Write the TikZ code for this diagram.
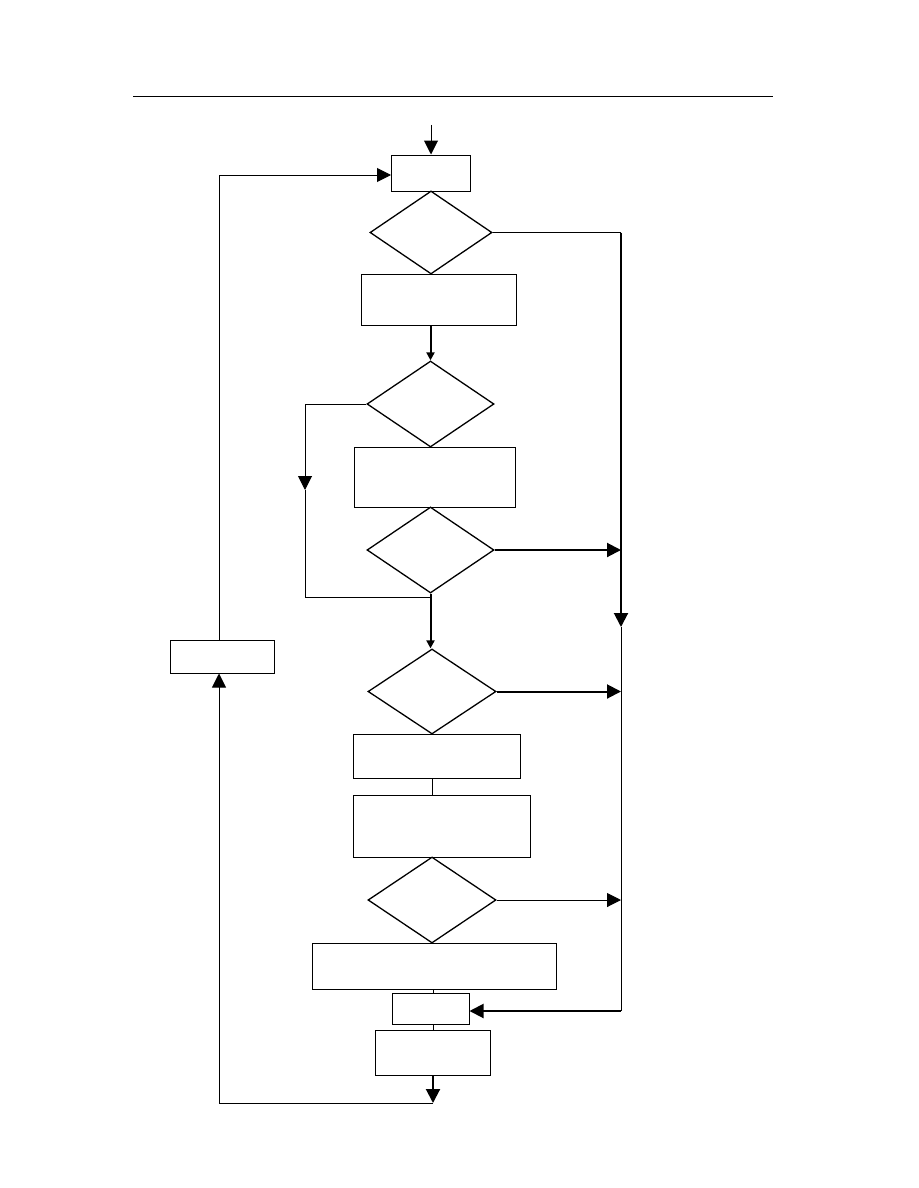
\documentclass[tikz,border=0pt]{standalone}
\usetikzlibrary{shapes.geometric,arrows.meta}
\begin{document}
\begin{tikzpicture}[x=1pt,y=-1pt,
  boxnode/.style={draw,line width=1pt,rectangle,inner sep=0pt},
  dianode/.style={draw,line width=1.3pt,diamond,inner sep=0pt},
  thin line/.style={line width=1pt},
  thick line/.style={line width=2pt},
  bigarrow/.style={-{Triangle[length=14pt,width=14pt]}},
  smallarrow/.style={-{Triangle[length=8pt,width=8pt]}}]
\useasboundingbox (0,0) rectangle (918,1188);
% header rule
\coordinate (hl) at (133,97);
\coordinate (hr) at (773,97);
\draw[line width=1pt] (hl) -- (hr);
% nodes
\node[boxnode,minimum width=79pt,minimum height=36pt] (b1) at (431,173) {};
\node[dianode,minimum width=122pt,minimum height=83pt] (d1) at (431,232.5) {};
\node[boxnode,minimum width=155pt,minimum height=51pt] (b2) at (438.5,299.5) {};
\node[dianode,minimum width=127pt,minimum height=86pt] (d2) at (430.5,404) {};
\node[boxnode,minimum width=161pt,minimum height=60pt] (b3) at (434.5,477) {};
\node[dianode,minimum width=127pt,minimum height=86pt] (d3) at (430.5,550) {};
\node[boxnode,minimum width=104pt,minimum height=33pt] (bl) at (222,656.5) {};
\node[dianode,minimum width=128pt,minimum height=85pt] (d4) at (432,691.5) {};
\node[boxnode,minimum width=167pt,minimum height=44pt] (b4) at (436.5,756) {};
\node[boxnode,minimum width=177pt,minimum height=62pt] (b5) at (441.5,826) {};
\node[dianode,minimum width=128pt,minimum height=86pt] (d5) at (432,900) {};
\node[boxnode,minimum width=244pt,minimum height=46pt] (b6) at (434,966) {};
\node[boxnode,minimum width=77pt,minimum height=31pt] (b7) at (430.5,1008.5) {};
\node[boxnode,minimum width=115pt,minimum height=45pt] (b8) at (432.5,1052.5) {};
% coordinates
\coordinate (top) at (431,125);
\coordinate (rtop) at (621,232.5);
\coordinate (rmid) at (621,627);
\coordinate (rbot) at (621,1011);
\coordinate (ltop) at (219,175);
\coordinate (lbot) at (219,1103);
\coordinate (bot) at (433,1103);
\coordinate (c1) at (305,404);
\coordinate (carr) at (305,490);
\coordinate (c2) at (305,597);
\coordinate (join) at (431,597);
% connectors
\draw[thin line,bigarrow] (top) -- (b1.north);
\draw[thin line] (d1.east) -- (rtop);
\draw[thick line,bigarrow] (rtop) -- (rmid);
\draw[thin line] (rmid) -- (rbot);
\draw[thick line,bigarrow] (rbot) -- (b7.east |- rbot);
\draw[thick line,smallarrow] (b2.south -| d2.north) -- (d2.north);
\draw[thin line] (d2.west) -- (c1);
\draw[thin line,bigarrow] (c1) -- (carr);
\draw[thin line] (carr) -- (c2) -- (join);
\draw[thick line,bigarrow] (d3.east) -- (d3.east -| rtop);
\draw[thick line,smallarrow] (d3.south) -- (d3.south |- d4.north);
\draw[thick line,bigarrow] (d4.east) -- (d4.east -| rtop);
\draw[thin line] (b4.south -| d4.south) ++(0.7,0) -- ++(0,17.7);
\draw[thin line,bigarrow] (d5.east) -- (d5.east -| rtop);
\draw[thin line] (b6.south -| 433,0) -- (b7.north -| 433,0);
\draw[thin line] (b7.south -| 433,0) -- (b8.north -| 433,0);
\draw[thick line,bigarrow] (b8.south -| bot) -- (bot);
\draw[thin line] (bot) -- (lbot);
\draw[thin line,bigarrow] (lbot) -- (bl.south -| lbot);
\draw[thin line] (bl.north -| ltop) -- (ltop);
\draw[thin line,bigarrow] (ltop) -- (b1.west |- ltop);
\end{tikzpicture}
\end{document}
